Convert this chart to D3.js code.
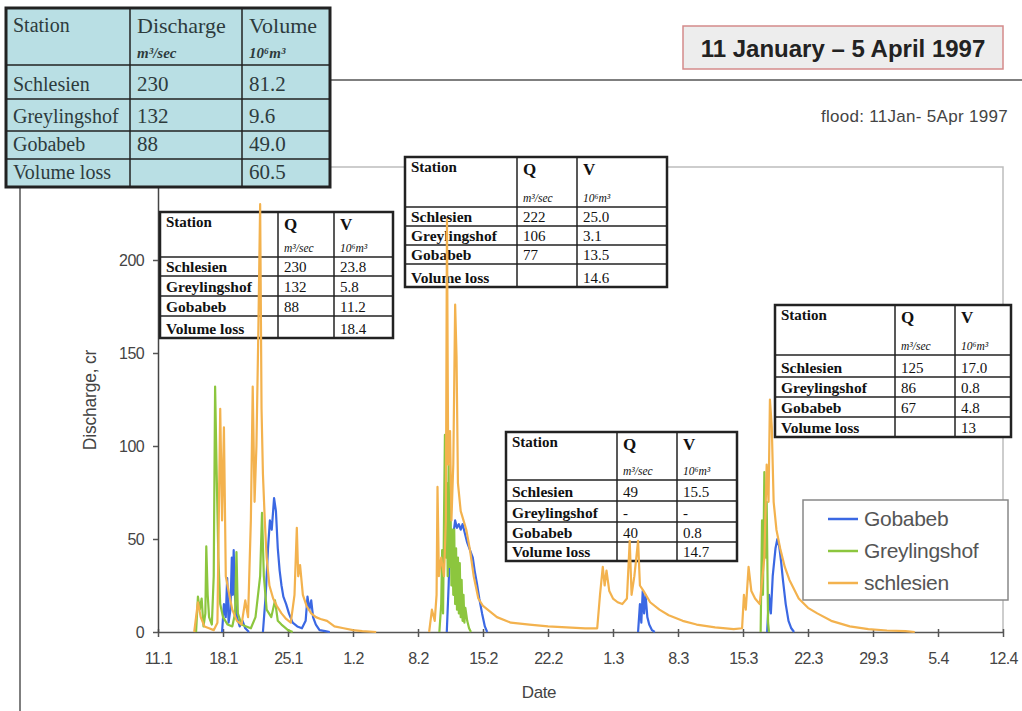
<!DOCTYPE html>
<html>
<head>
<meta charset="utf-8">
<script src="https://cdn.jsdelivr.net/npm/d3@7/dist/d3.min.js"></script>
<style>
  html, body { margin: 0; padding: 0; background: #fff; }
  svg { display: block; }
</style>
</head>
<body>
<svg id="chart" width="1022" height="711"></svg>
<script>
// ---------------- DATA ----------------
// days counted from 11 January 1997
const tickDays = [0, 7, 14, 21, 28, 35, 42, 49, 56, 63, 70, 77, 84, 91];
const tickLabels = ["11.1","18.1","25.1","1.2","8.2","15.2","22.2","1.3","8.3","15.3","22.3","29.3","5.4","12.4"];
const yTicks = [0, 50, 100, 150, 200, 250];
const seriesNames = ["Gobabeb", "Greylingshof", "schlesien"];

// [day, discharge m3/s]; null = gap
const gobabeb = [
  [6.9,0],[7.1,15],[7.3,8],[7.45,29],[7.6,5],[7.8,12],[7.95,40],[8.05,20],[8.15,44],[8.3,18],[8.5,8],[8.8,3],[9.1,6],[9.4,2],[9.8,0],
  null,
  [11.3,0],[11.6,20],[11.85,45],[12.05,60],[12.25,55],[12.5,72],[12.7,65],[12.9,45],[13.1,33],[13.3,25],[13.5,19],[13.8,15],[14.1,10],[14.5,5],[15.0,3],[15.5,2],[15.9,6],[16.1,19],[16.3,12],[16.5,17],[16.7,8],[17.0,4],[17.4,1],[18.0,0.5],[18.5,0],
  null,
  [31.1,0],[31.3,25],[31.45,49],[31.6,40],[31.8,52],[32.0,60],[32.2,56],[32.4,58],[32.6,55],[32.8,58],[33.0,54],[33.3,48],[33.6,44],[33.9,40],[34.1,33],[34.35,26],[34.6,18],[34.9,10],[35.2,3],[35.45,0],
  null,
  [51.7,0],[51.9,15],[52.05,5],[52.2,22],[52.35,10],[52.5,20],[52.7,8],[52.9,4],[53.2,1],[53.5,0],
  null,
  [65.6,0],[65.8,20],[66.0,10],[66.2,30],[66.5,45],[66.7,50],[66.9,46],[67.1,38],[67.3,28],[67.6,15],[67.9,6],[68.2,2],[68.5,0]
];

const greylingshof = [
  [4.1,0],[4.3,19],[4.5,12],[4.7,18],[4.9,3],[5.1,10],[5.2,46],[5.35,20],[5.5,8],[5.8,4],[6.0,30],[6.15,132],[6.3,90],[6.5,40],[6.7,15],[7.0,8],[7.5,4],[8.0,3],[8.3,10],[8.45,43],[8.6,10],[9.0,4],[9.5,3],[10.0,2],[10.5,8],[11.0,30],[11.2,64],[11.4,30],[11.7,12],[12.2,8],[12.6,17],[12.9,6],[13.3,4],[14.0,1],[14.5,0],
  null,
  [30.3,0],[30.5,15],[30.6,44],[30.7,10],[30.8,60],[30.9,106],[31.0,40],[31.1,80],[31.2,30],[31.3,90],[31.4,35],[31.5,70],[31.6,25],[31.7,55],[31.8,20],[31.9,55],[32.0,15],[32.1,45],[32.2,12],[32.3,40],[32.4,10],[32.5,37],[32.6,8],[32.7,28],[32.8,6],[32.9,20],[33.0,5],[33.1,13],[33.3,6],[33.5,2],[33.7,0],
  null,
  [64.9,0],[65.05,60],[65.15,20],[65.3,86],[65.45,40],[65.55,70],[65.7,5],[65.8,0]
];

const schlesien = [
  [3.9,0],[4.3,16],[4.6,8],[5.0,3],[5.5,2],[6.0,1],[6.4,5],[6.7,120],[6.9,60],[7.1,110],[7.3,30],[7.6,22],[8.0,12],[8.5,6],[9.0,4],[9.4,17],[9.7,8],[10.0,60],[10.2,132],[10.4,70],[10.6,100],[10.8,160],[11.0,230],[11.15,120],[11.3,85],[11.5,60],[11.7,40],[12.0,25],[12.4,18],[12.8,14],[13.3,10],[13.8,7],[14.3,5],[14.7,20],[14.95,56],[15.1,30],[15.3,36],[15.6,20],[16.0,14],[16.5,10],[17.0,8],[17.5,7],[18.2,6],[19.0,3],[20.0,2],[21.0,1],[22.0,0.5],[23.5,0],
  null,
  [29.2,0],[29.5,12],[29.8,6],[30.0,20],[30.1,78],[30.25,30],[30.5,40],[30.8,30],[31.0,60],[31.12,222],[31.25,90],[31.45,108],[31.6,60],[31.8,90],[32.0,176],[32.15,148],[32.3,80],[32.6,65],[32.9,60],[33.2,55],[33.6,44],[34.0,30],[34.5,18],[35.0,14],[35.5,12],[36.5,8],[38.0,5],[40.0,4],[42.0,3],[44.0,2.5],[46.0,2],
  [47.3,2],[47.6,20],[47.9,35],[48.1,25],[48.3,33],[48.6,22],[49.0,18],[49.5,16],[50.0,15],[50.5,18],[50.8,49],[51.0,20],[51.3,30],[51.7,49],[51.9,25],[52.3,22],[53.0,16],[54.0,12],[55.0,9],[56.5,6],[58.0,4],[60.0,2.5],[62.0,1.5],
  [62.9,2],[63.1,20],[63.3,12],[63.6,35],[63.9,22],[64.3,18],[64.8,15],[65.3,40],[65.55,90],[65.75,70],[65.9,125],[66.1,110],[66.3,70],[66.6,55],[67.0,45],[67.5,35],[68.0,28],[69.0,18],[70.0,13],[71.0,10],[72.5,6],[74.5,3],[76.5,1.5],[78.5,0.8],[80.5,0.5],[81.5,0]
];

// summary tables
const stations = ["Schlesien", "Greylingshof", "Gobabeb", "Volume loss"];
const totalQ = ["230", "132", "88", ""];
const totalV = ["81.2", "9.6", "49.0", "60.5"];
const ev1Q = ["230", "132", "88", ""];
const ev1V = ["23.8", "5.8", "11.2", "18.4"];
const ev2Q = ["222", "106", "77", ""];
const ev2V = ["25.0", "3.1", "13.5", "14.6"];
const ev3Q = ["49", "-", "40", ""];
const ev3V = ["15.5", "-", "0.8", "14.7"];
const ev4Q = ["125", "86", "67", ""];
const ev4V = ["17.0", "0.8", "4.8", "13"];

const titleText = "11 January \u2013 5 April 1997";
const subTitleText = "flood: 11Jan- 5Apr 1997";

// ---------------- DRAW ----------------
const svg = d3.select("#chart");
const SANS = "'Liberation Sans', Arial, sans-serif";
const SERIF = "'Liberation Serif', 'Times New Roman', serif";

const x = d3.scaleLinear().domain([0, 91]).range([158, 1003]);
const y = d3.scaleLinear().domain([0, 250]).range([632, 167]);

// chart area border (extends beyond the window)
svg.append("rect").attr("x", 20).attr("y", 80).attr("width", 1100).attr("height", 700)
  .attr("fill", "none").attr("stroke", "#555").attr("stroke-width", 1.5);

// plot area border
svg.append("path")
  .attr("d", `M${x(0)},${y(250)}H${x(91)}V${y(0)}`)
  .attr("fill", "none").attr("stroke", "#bdbdbd").attr("stroke-width", 1.5);

// subtitle
svg.append("text").attr("x", 1008).attr("y", 122).attr("text-anchor", "end")
  .attr("font-family", SANS).attr("font-size", 17).attr("fill", "#444")
  .attr("letter-spacing", 0.3).text(subTitleText);

// axes
const xAxis = d3.axisBottom(x).tickValues(tickDays)
  .tickFormat((d, i) => tickLabels[i]).tickSizeInner(5).tickSizeOuter(0).tickPadding(16);
const gx = svg.append("g").attr("transform", `translate(0,${y(0)})`).call(xAxis);
gx.select(".domain").attr("stroke", "#555").attr("stroke-width", 1.5);
gx.selectAll(".tick line").attr("stroke", "#555").attr("stroke-width", 1.5).attr("y1", -3);
gx.selectAll(".tick text").attr("font-family", SANS).attr("font-size", 16).attr("fill", "#444")
  .attr("letter-spacing", -0.6);

const yAxis = d3.axisLeft(y).tickValues(yTicks).tickSizeInner(5).tickSizeOuter(0).tickPadding(9);
const gy = svg.append("g").attr("transform", `translate(${x(0)},0)`).call(yAxis);
gy.select(".domain").attr("stroke", "#444").attr("stroke-width", 1.5);
gy.selectAll(".tick line").attr("stroke", "#555").attr("stroke-width", 1.5);
gy.selectAll(".tick text").attr("font-family", SANS).attr("font-size", 16).attr("fill", "#444")
  .attr("letter-spacing", -0.6);

svg.append("text").attr("transform", `translate(96,400) rotate(-90)`).attr("text-anchor", "middle")
  .attr("font-family", SANS).attr("font-size", 17.5).attr("fill", "#444").attr("letter-spacing", -0.2)
  .text("Discharge, cr");
svg.append("text").attr("x", 539).attr("y", 698).attr("text-anchor", "middle")
  .attr("font-family", SANS).attr("font-size", 17).attr("fill", "#444").attr("letter-spacing", -0.4)
  .text("Date");

// table helper
function drawTable(o) {
  const g = svg.append("g");
  const [c0, c1, c2, c3] = o.cols;
  const r = o.rows;
  g.append("rect").attr("x", c0).attr("y", r[0]).attr("width", c3 - c0).attr("height", r[r.length - 1] - r[0])
    .attr("fill", o.fill).attr("stroke", "#222").attr("stroke-width", o.outer);
  for (let i = 1; i < r.length - 1; i++) {
    g.append("line").attr("x1", c0).attr("x2", c3).attr("y1", r[i]).attr("y2", r[i])
      .attr("stroke", "#222").attr("stroke-width", o.inner);
  }
  [c1, c2].forEach(c => g.append("line").attr("x1", c).attr("x2", c).attr("y1", r[0]).attr("y2", r[r.length - 1])
    .attr("stroke", "#222").attr("stroke-width", o.inner));
  const txt = (tx, ty, s, size, weight, style) => g.append("text").attr("x", tx).attr("y", ty)
    .attr("font-family", SERIF).attr("font-size", size).attr("font-weight", weight || "normal")
    .attr("font-style", style || "normal").attr("fill", o.color).text(s);
  // header
  txt(c0 + o.pad, r[0] + o.headBase, o.head[0], o.headSize, o.headWeight);
  txt(c1 + o.pad, r[0] + o.headBase2, o.head[1], o.headSize2, o.headWeight);
  txt(c2 + o.pad, r[0] + o.headBase2, o.head[2], o.headSize2, o.headWeight);
  txt(c1 + o.pad, r[1] - o.unitOff, "m\u00B3/sec", o.unitSize, o.unitWeight, "italic");
  txt(c2 + o.pad, r[1] - o.unitOff, "10\u2076m\u00B3", o.unitSize, o.unitWeight, "italic");
  stations.forEach((s, i) => {
    const base = r[i + 2] - o.bodyOff;
    txt(c0 + o.pad, base, s, o.bodySize, o.bodyWeight);
    txt(c1 + o.pad, base, o.q[i], o.numSize, "normal");
    txt(c2 + o.pad, base, o.v[i], o.numSize, "normal");
  });
}

const smallStyle = {
  fill: "#fff", outer: 2.5, inner: 1.5, color: "#111", pad: 6,
  head: ["Station", "Q", "V"], headSize: 15, headSize2: 17, headWeight: "bold",
  headBase: 15, headBase2: 18, unitSize: 11.5, unitWeight: "normal", unitOff: 5,
  bodySize: 15.5, bodyWeight: "bold", numSize: 15, bodyOff: 4
};

drawTable(Object.assign({}, smallStyle, { cols: [160, 278, 334, 393], rows: [212, 257, 276, 296, 316, 338], q: ev1Q, v: ev1V }));
drawTable(Object.assign({}, smallStyle, { cols: [405, 517, 577, 667], rows: [157, 207, 226, 245, 264, 287], q: ev2Q, v: ev2V }));
drawTable(Object.assign({}, smallStyle, { cols: [506, 617, 677, 737], rows: [432, 480, 501, 522, 542, 561], q: ev3Q, v: ev3V }));
drawTable(Object.assign({}, smallStyle, { cols: [775, 895, 955, 1011], rows: [305, 355, 377, 397, 417, 437], q: ev4Q, v: ev4V }));

// series
const line = d3.line().defined(d => d !== null).x(d => x(d[0])).y(d => y(d[1]));
const seriesData = [gobabeb, greylingshof, schlesien];
const colors = ["#3b68e3", "#8cc63e", "#f3b24e"];
seriesData.forEach((s, i) => {
  svg.append("path").datum(s).attr("d", line).attr("fill", "none")
    .attr("stroke", colors[i]).attr("stroke-width", 2.2).attr("stroke-linejoin", "round");
});

// legend
const lg = svg.append("g");
lg.append("rect").attr("x", 803).attr("y", 500).attr("width", 205).attr("height", 100)
  .attr("fill", "#fff").attr("stroke", "#888").attr("stroke-width", 1.5);
seriesNames.forEach((n, i) => {
  const ly = 519 + i * 32;
  lg.append("line").attr("x1", 828).attr("x2", 858).attr("y1", ly).attr("y2", ly)
    .attr("stroke", colors[i]).attr("stroke-width", 2.5);
  lg.append("text").attr("x", 864).attr("y", ly + 7).attr("font-family", SANS).attr("font-size", 21)
    .attr("fill", "#555").attr("letter-spacing", -0.3).text(n);
});

// big summary table
drawTable({
  cols: [6, 130, 242, 330], rows: [8, 65, 99, 131, 159, 187], q: totalQ, v: totalV,
  fill: "#b9dfe4", outer: 3, inner: 1.5, color: "#2d3b3d", pad: 7,
  head: ["Station", "Discharge", "Volume"], headSize: 20, headSize2: 22, headWeight: "normal",
  headBase: 24, headBase2: 25, unitSize: 15, unitWeight: "bold", unitOff: 7,
  bodySize: 20, bodyWeight: "normal", numSize: 21, bodyOff: 8
});

// title box
svg.append("rect").attr("x", 683).attr("y", 26).attr("width", 320).attr("height", 43)
  .attr("fill", "#ededed").attr("stroke", "#d48a8a").attr("stroke-width", 1.5);
svg.append("text").attr("x", 843).attr("y", 57).attr("text-anchor", "middle")
  .attr("font-family", SANS).attr("font-size", 24).attr("font-weight", "bold").attr("fill", "#222")
  .text(titleText);
</script>
</body>
</html>
